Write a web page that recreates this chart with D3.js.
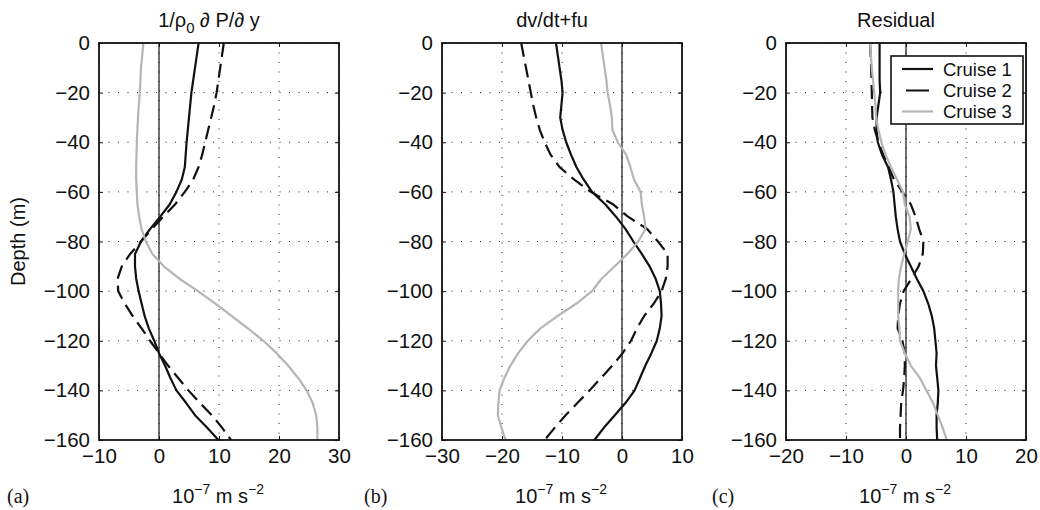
<!DOCTYPE html>
<html>
<head>
<meta charset="utf-8">
<script src="https://cdn.jsdelivr.net/npm/d3@7"></script>
<style>
  html, body { margin: 0; padding: 0; background: #fff; }
  svg { display: block; }
  text { font-family: "Liberation Sans", Arial, Helvetica, sans-serif; fill: #111; }
</style>
</head>
<body>
<svg id="chart" width="1040" height="510"></svg>
<script>
// ---------------- data ----------------
const depths = [0,-5,-10,-15,-20,-25,-30,-35,-40,-45,-50,-55,-60,-65,-70,-75,-80,-85,-90,-95,-100,-105,-110,-115,-120,-125,-130,-135,-140,-145,-150,-155,-160];

const seriesNames = ["Cruise 1", "Cruise 2", "Cruise 3"];
const panelTitles = ["1/ρ0 ∂ P/∂ y", "dv/dt+fu", "Residual"];
const panelLetters = ["(a)", "(b)", "(c)"];

// panel (a): 1/rho0 dP/dy
const pressureCruise1 = [6.6,6.3,6.0,5.7,5.4,5.2,5.0,4.8,4.6,4.45,4.3,3.8,2.9,1.8,0.2,-1.5,-3.0,-4.0,-4.0,-3.8,-3.4,-2.9,-2.4,-1.7,-0.8,0.0,1.0,1.9,2.9,4.5,6.0,8.0,9.9];
const pressureCruise2 = [10.8,10.5,10.2,9.9,9.6,9.2,8.7,8.2,7.7,7.2,6.6,5.7,4.3,2.7,0.7,-1.2,-3.0,-4.8,-6.2,-6.9,-6.8,-5.7,-4.4,-2.9,-1.5,0.0,1.5,3.2,4.9,6.8,8.8,10.5,12.0];
const pressureCruise3 = [-2.6,-2.8,-3.0,-3.1,-3.2,-3.35,-3.5,-3.6,-3.7,-3.75,-3.8,-3.8,-3.7,-3.6,-3.3,-2.9,-2.2,-1.1,0.8,3.4,6.5,9.4,12.1,14.8,17.4,19.6,21.5,23.2,24.6,25.6,26.2,26.4,26.4];

// panel (b): dv/dt + fu
const accelCruise1 = [-11.0,-10.7,-10.4,-10.1,-9.9,-10.1,-10.3,-9.9,-9.3,-8.5,-7.6,-6.4,-5.0,-2.8,-1.0,0.6,1.9,3.3,4.6,5.6,6.3,6.5,6.6,6.3,5.8,4.9,3.9,3.0,2.1,0.6,-1.2,-3.0,-4.6];
const accelCruise2 = [-16.8,-16.4,-16.0,-15.6,-15.2,-14.8,-14.3,-13.7,-12.9,-11.9,-10.4,-8.0,-5.2,-1.5,1.0,4.2,6.0,7.6,7.6,7.3,6.6,5.3,3.7,2.5,1.5,0.1,-1.6,-3.5,-5.4,-7.4,-9.4,-11.2,-12.9];
const accelCruise3 = [-3.5,-3.2,-2.9,-2.6,-2.4,-2.0,-1.7,-1.6,-0.7,0.7,1.4,2.0,3.1,3.3,3.7,3.9,2.7,0.9,-1.2,-3.4,-5.0,-7.6,-10.7,-13.6,-15.7,-17.3,-18.6,-19.6,-20.4,-20.6,-20.7,-20.1,-19.4];

// panel (c): residual
const residCruise1 = [-4.4,-4.4,-4.4,-4.4,-4.3,-4.6,-4.9,-4.9,-4.7,-4.0,-3.0,-2.5,-2.1,-1.9,-1.7,-1.4,-1.0,-0.2,0.8,1.8,2.9,3.7,4.3,4.7,4.9,5.1,5.0,5.2,5.4,5.3,5.1,5.1,5.2];
const residCruise2 = [-6.0,-5.9,-5.8,-5.75,-5.7,-5.65,-5.6,-5.2,-4.6,-3.8,-2.9,-2.0,-0.6,0.8,1.6,2.2,2.9,2.8,2.1,0.9,-0.4,-1.0,-1.3,-1.4,-0.6,-0.2,-0.2,-0.3,-0.5,-0.8,-0.9,-1.0,-1.0];
const residCruise3 = [-6.0,-5.85,-5.7,-5.5,-5.3,-5.1,-5.0,-4.6,-4.1,-3.4,-2.5,-1.5,-0.5,-0.2,0.6,0.8,0.3,-0.3,-0.8,-1.2,-1.3,-1.3,-1.3,-1.1,-1.0,-0.2,0.8,2.3,3.4,4.5,5.3,6.1,6.8];

const yTicks = [0,-20,-40,-60,-80,-100,-120,-140,-160];
const xTicksA = [-10,0,10,20,30];
const xTicksB = [-30,-20,-10,0,10];
const xTicksC = [-20,-10,0,10,20];

// ---------------- layout ----------------
const svg = d3.select("#chart");
const plotTop = 43, plotBottom = 440;
const panels = [
  {left: 99,  right: 339,  domain: [-10, 30], ticks: xTicksA, series: [pressureCruise1, pressureCruise2, pressureCruise3], letterX: 7},
  {left: 442, right: 682,  domain: [-30, 10], ticks: xTicksB, series: [accelCruise1, accelCruise2, accelCruise3], letterX: 364},
  {left: 786, right: 1026, domain: [-20, 20], ticks: xTicksC, series: [residCruise1, residCruise2, residCruise3], letterX: 712}
];
const styles = [
  {color: "#111", dash: null},
  {color: "#111", dash: "14,7"},
  {color: "#b5b5b5", dash: null}
];
const fmt = d => String(d).replace("-", "\u2212");

const y = d3.scaleLinear().domain([-160, 0]).range([plotBottom, plotTop]);

panels.forEach((p, i) => {
  const x = d3.scaleLinear().domain(p.domain).range([p.left, p.right]);
  const g = svg.append("g");

  // grid
  g.selectAll(".vg").data(p.ticks).enter().append("line")
    .attr("x1", d => x(d)).attr("x2", d => x(d)).attr("y1", plotTop).attr("y2", plotBottom)
    .attr("stroke", "#222").attr("stroke-width", 1).attr("stroke-dasharray", "1,8.5");
  g.selectAll(".hg").data(yTicks).enter().append("line")
    .attr("x1", p.left).attr("x2", p.right).attr("y1", d => y(d)).attr("y2", d => y(d))
    .attr("stroke", "#222").attr("stroke-width", 1).attr("stroke-dasharray", "1,8.5");

  // zero line
  g.append("line").attr("x1", x(0)).attr("x2", x(0)).attr("y1", plotTop).attr("y2", plotBottom)
    .attr("stroke", "#111").attr("stroke-width", 1.2);

  // curves
  const line = d3.line().x(d => x(d[0])).y(d => y(d[1])).curve(d3.curveLinear);
  p.series.forEach((vals, k) => {
    const pts = vals.map((v, j) => [v, depths[j]]);
    g.append("path").datum(pts).attr("d", line)
      .attr("fill", "none").attr("stroke", styles[k].color).attr("stroke-width", 2.2)
      .attr("stroke-linejoin", "round")
      .attr("stroke-dasharray", styles[k].dash);
  });

  // axes
  const xAxis = d3.axisBottom(x).tickValues(p.ticks).tickSizeInner(-4).tickSizeOuter(0).tickPadding(8).tickFormat(fmt);
  const gx = g.append("g").attr("transform", `translate(0,${plotBottom})`).call(xAxis);
  const xAxisTop = d3.axisTop(x).tickValues(p.ticks).tickSizeInner(-4).tickSizeOuter(0).tickFormat("");
  g.append("g").attr("transform", `translate(0,${plotTop})`).call(xAxisTop);
  const yAxis = d3.axisLeft(y).tickValues(yTicks).tickSizeInner(-4).tickSizeOuter(0).tickPadding(9).tickFormat(fmt);
  g.append("g").attr("transform", `translate(${p.left},0)`).call(yAxis);
  const yAxisR = d3.axisRight(y).tickValues(yTicks).tickSizeInner(-4).tickSizeOuter(0).tickFormat("");
  g.append("g").attr("transform", `translate(${p.right},0)`).call(yAxisR);

  svg.selectAll(".domain").attr("stroke", "none");
  g.selectAll(".tick line").attr("stroke", "#111").attr("stroke-width", 1);
  g.selectAll(".tick text").style("font-family", "'Liberation Sans', Arial, sans-serif")
    .style("font-size", "20.5px").attr("fill", "#111");
  gx.selectAll(".tick text").attr("dy", "0.71em");

  // frame
  g.append("rect").attr("x", p.left).attr("y", plotTop).attr("width", p.right - p.left).attr("height", plotBottom - plotTop)
    .attr("fill", "none").attr("stroke", "#111").attr("stroke-width", 1.8);

  // title
  const cx = (p.left + p.right) / 2;
  const t = g.append("text").attr("x", cx - 10).attr("y", 27).attr("text-anchor", "middle")
    .style("font-size", "20px");
  if (i === 0) {
    t.append("tspan").text("1/ρ");
    t.append("tspan").attr("dy", 6).style("font-size", "15px").text("0");
    t.append("tspan").attr("dy", -6).text(" ∂ P/∂ y");
  } else {
    t.text(panelTitles[i]);
  }

  // x-axis label
  const xl = g.append("text").attr("x", cx - 1).attr("y", 503).attr("text-anchor", "middle")
    .style("font-size", "20px");
  xl.append("tspan").text("10");
  xl.append("tspan").attr("dy", -9).style("font-size", "14px").text("−7");
  xl.append("tspan").attr("dy", 9).text(" m s");
  xl.append("tspan").attr("dy", -9).style("font-size", "14px").text("−2");

  // panel letter
  g.append("text").attr("x", p.letterX).attr("y", 503)
    .style("font-family", "'Liberation Serif', 'Times New Roman', serif").style("font-size", "20px")
    .text(panelLetters[i]);
});

// y-axis label
svg.append("text").attr("transform", `translate(25,${(plotTop + plotBottom) / 2}) rotate(-90)`)
  .attr("text-anchor", "middle").style("font-size", "20px").text("Depth (m)");

// legend
const lg = svg.append("g");
lg.append("rect").attr("x", 891).attr("y", 56).attr("width", 132).attr("height", 68)
  .attr("fill", "#fff").attr("stroke", "#111").attr("stroke-width", 1.6);
const rowY = [69, 90.5, 111.5];
seriesNames.forEach((name, k) => {
  lg.append("line").attr("x1", 902).attr("x2", 933).attr("y1", rowY[k]).attr("y2", rowY[k])
    .attr("stroke", styles[k].color).attr("stroke-width", 2.2)
    .attr("stroke-dasharray", k === 1 ? "0,4,23,40" : null);
  lg.append("text").attr("x", 943).attr("y", rowY[k] + 6.5).style("font-size", "18.5px").text(name);
});
</script>
</body>
</html>
